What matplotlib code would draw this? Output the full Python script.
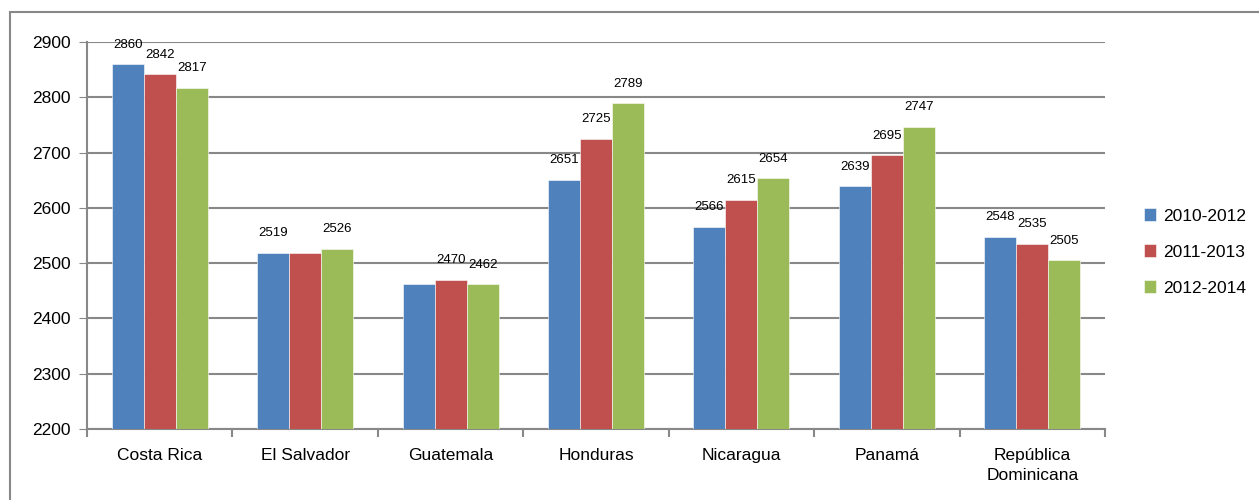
import numpy as np
import matplotlib.pyplot as plt
from matplotlib.patches import Rectangle

plt.rcParams['font.family'] = ['Liberation Sans Narrow', 'Liberation Sans', 'DejaVu Sans']

# data
countries = ["Costa Rica", "El Salvador", "Guatemala", "Honduras", "Nicaragua", "Panamá", "República\nDominicana"]
periods = ["2010-2012", "2011-2013", "2012-2014"]
v2010_2012 = [2860, 2519, 2462, 2651, 2566, 2639, 2548]
v2011_2013 = [2842, 2519, 2470, 2725, 2615, 2695, 2535]
v2012_2014 = [2817, 2526, 2462, 2789, 2654, 2747, 2505]
# labels the original chart left out (overlapping)
hidden = [(1, 1), (0, 2)]  # (series, category)

colors = ["#4F81BD", "#C0504D", "#9BBB59"]
series = [v2010_2012, v2011_2013, v2012_2014]

fig = plt.figure(figsize=(12.59, 5.0), dpi=100)
ax = fig.add_axes([87/1259, 71/500, (1105-87)/1259, (429-42)/500])

x = np.arange(len(countries))
w = 0.22
for i, vals in enumerate(series):
    bars = ax.bar(x + (i-1)*w, vals, w, color=colors[i], edgecolor="white",
                  linewidth=0.4, label=periods[i], zorder=3)
    for j, b in enumerate(bars):
        if (i, j) in hidden:
            continue
        ax.annotate(str(vals[j]), (b.get_x() + b.get_width()/2, vals[j]),
                    xytext=(0, 14), textcoords="offset points",
                    ha="center", va="center", fontsize=9.5)

ax.set_ylim(2200, 2900)
ax.set_xlim(-0.5, len(countries)-0.5)
ax.set_yticks(range(2200, 2901, 100))
ax.tick_params(axis="y", labelsize=12.5, length=6, color="#888888", pad=6)
ax.grid(axis="y", color="#888888", linewidth=1.5, zorder=0)
ax.set_xticks(x)
ax.set_xticklabels(countries, fontsize=12.5, linespacing=1.35)
ax.tick_params(axis="x", length=0, pad=14)
ax.set_xticks(np.arange(-0.5, len(countries)), minor=True)
ax.tick_params(axis="x", which="minor", length=6, color="#888888", width=1.5)
for s in ["top", "right"]:
    ax.spines[s].set_visible(False)
for s in ["left", "bottom"]:
    ax.spines[s].set_color("#888888")
    ax.spines[s].set_linewidth(1.5)

fig.legend(loc="center left", bbox_to_anchor=(1128/1259, 1-252/500), frameon=False,
           fontsize=12.5, handlelength=0.7, handleheight=0.7, handletextpad=0.4,
           labelspacing=1.2)

fig.patches.append(Rectangle((10/1259, -0.1), 1.1, 1.1-12/500, transform=fig.transFigure,
                             fill=False, edgecolor="#888888", linewidth=1.5))

fig.savefig("out.png", dpi=100)
